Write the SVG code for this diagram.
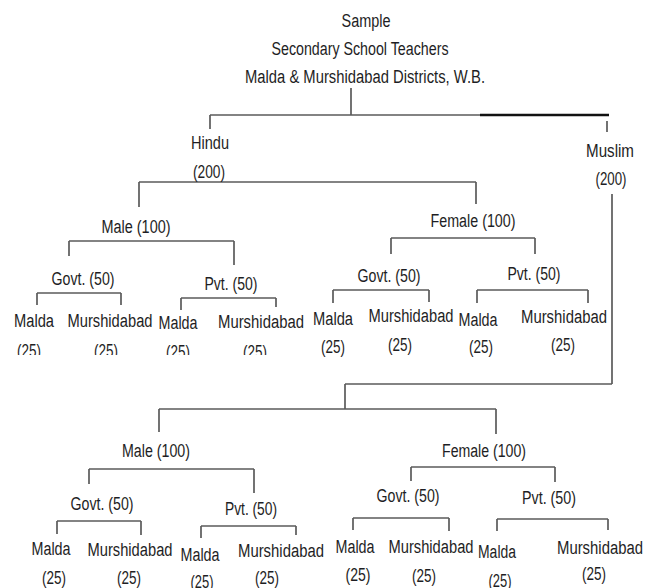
<svg xmlns="http://www.w3.org/2000/svg" width="654" height="588" viewBox="0 0 654 588">
<style>
text{font-family:"Liberation Sans",Arial,sans-serif;font-size:18px;fill:#1e1e24;text-anchor:middle}
.c line{stroke:#5a5a5a;stroke-width:1.7;fill:none}
.c line.k{stroke:#111;stroke-width:2.6}
</style>
<defs>
<clipPath id="cut"><rect x="0" y="0" width="320" height="355"/></clipPath>
</defs>
<rect width="654" height="588" fill="#fff"/>
<g id="connectors" class="c">
<line x1="351" y1="88" x2="351" y2="115"/>
<line x1="210" y1="115" x2="481" y2="115"/>
<line class="k" x1="480" y1="115" x2="609" y2="115"/>
<line x1="210" y1="115" x2="210" y2="129"/>
<line x1="607" y1="121" x2="607" y2="132"/>
<line x1="139" y1="182" x2="476" y2="182"/>
<line x1="139" y1="182" x2="139" y2="207"/>
<line x1="476" y1="182" x2="476" y2="204"/>
<line x1="69" y1="241" x2="234" y2="241"/>
<line x1="69" y1="241" x2="69" y2="256"/>
<line x1="234" y1="241" x2="234" y2="265"/>
<line x1="37" y1="293" x2="121" y2="293"/>
<line x1="37" y1="293" x2="37" y2="305"/>
<line x1="121" y1="293" x2="121" y2="305"/>
<line x1="181" y1="298" x2="276" y2="298"/>
<line x1="181" y1="298" x2="181" y2="310"/>
<line x1="276" y1="298" x2="276" y2="307"/>
<line x1="391" y1="238" x2="535" y2="238"/>
<line x1="391" y1="238" x2="391" y2="254"/>
<line x1="535" y1="238" x2="535" y2="254"/>
<line x1="333" y1="290" x2="429" y2="290"/>
<line x1="333" y1="290" x2="333" y2="303"/>
<line x1="429" y1="290" x2="429" y2="302"/>
<line x1="477" y1="290" x2="588" y2="290"/>
<line x1="477" y1="290" x2="477" y2="303"/>
<line x1="588" y1="290" x2="588" y2="303"/>
<line x1="612" y1="194" x2="612" y2="384"/>
<line x1="345" y1="384" x2="612" y2="384"/>
<line x1="345" y1="384" x2="345" y2="409"/>
<line x1="159" y1="409" x2="496" y2="409"/>
<line x1="159" y1="409" x2="159" y2="432"/>
<line x1="496" y1="409" x2="496" y2="434"/>
<line x1="89" y1="469" x2="254" y2="469"/>
<line x1="89" y1="469" x2="89" y2="484"/>
<line x1="254" y1="469" x2="254" y2="493"/>
<line x1="411" y1="467" x2="555" y2="467"/>
<line x1="411" y1="467" x2="411" y2="481"/>
<line x1="555" y1="467" x2="555" y2="482"/>
<line x1="57" y1="521" x2="141" y2="521"/>
<line x1="57" y1="521" x2="57" y2="534"/>
<line x1="141" y1="521" x2="141" y2="535"/>
<line x1="201" y1="526" x2="296" y2="526"/>
<line x1="201" y1="526" x2="201" y2="538"/>
<line x1="296" y1="526" x2="296" y2="535"/>
<line x1="353" y1="518" x2="449" y2="518"/>
<line x1="353" y1="518" x2="353" y2="530"/>
<line x1="449" y1="518" x2="449" y2="531"/>
<line x1="497" y1="519" x2="608" y2="519"/>
<line x1="497" y1="519" x2="497" y2="531"/>
<line x1="608" y1="519" x2="608" y2="530"/>
</g>
<g id="root">
<text x="366" y="27" textLength="49" lengthAdjust="spacingAndGlyphs">Sample</text>
<text x="360" y="55" textLength="177" lengthAdjust="spacingAndGlyphs">Secondary School Teachers</text>
<text x="365" y="83" textLength="240" lengthAdjust="spacingAndGlyphs">Malda &amp; Murshidabad Districts, W.B.</text>
</g>
<g id="hindu">
<text x="210" y="149" textLength="38" lengthAdjust="spacingAndGlyphs">Hindu</text>
<text x="209" y="178" textLength="32" lengthAdjust="spacingAndGlyphs">(200)</text>
</g>
<g id="muslim">
<text x="610" y="157" textLength="48" lengthAdjust="spacingAndGlyphs">Muslim</text>
<text x="611" y="185" textLength="31" lengthAdjust="spacingAndGlyphs">(200)</text>
</g>
<g id="h-male"><text x="136" y="233" textLength="69" lengthAdjust="spacingAndGlyphs">Male (100)</text></g>
<g id="h-female"><text x="473" y="227" textLength="85" lengthAdjust="spacingAndGlyphs">Female (100)</text></g>
<g id="h-m-govt"><text x="83" y="285" textLength="63" lengthAdjust="spacingAndGlyphs">Govt. (50)</text></g>
<g id="h-m-pvt"><text x="231" y="290" textLength="53" lengthAdjust="spacingAndGlyphs">Pvt. (50)</text></g>
<g id="h-f-govt"><text x="389" y="282" textLength="63" lengthAdjust="spacingAndGlyphs">Govt. (50)</text></g>
<g id="h-f-pvt"><text x="534" y="280" textLength="53" lengthAdjust="spacingAndGlyphs">Pvt. (50)</text></g>
<g id="h-m-g-malda"><text x="34" y="327" textLength="40" lengthAdjust="spacingAndGlyphs">Malda</text><text x="29" y="357" textLength="24" lengthAdjust="spacingAndGlyphs" clip-path="url(#cut)">(25)</text></g>
<g id="h-m-g-mur"><text x="110" y="327" textLength="85" lengthAdjust="spacingAndGlyphs">Murshidabad</text><text x="106" y="357" textLength="24" lengthAdjust="spacingAndGlyphs" clip-path="url(#cut)">(25)</text></g>
<g id="h-m-p-malda"><text x="178" y="329" textLength="39" lengthAdjust="spacingAndGlyphs">Malda</text><text x="178" y="358" textLength="24" lengthAdjust="spacingAndGlyphs" clip-path="url(#cut)">(25)</text></g>
<g id="h-m-p-mur"><text x="261" y="328" textLength="86" lengthAdjust="spacingAndGlyphs">Murshidabad</text><text x="255" y="358" textLength="24" lengthAdjust="spacingAndGlyphs" clip-path="url(#cut)">(25)</text></g>
<g id="h-f-g-malda"><text x="333" y="325" textLength="40" lengthAdjust="spacingAndGlyphs">Malda</text><text x="333" y="353" textLength="24" lengthAdjust="spacingAndGlyphs">(25)</text></g>
<g id="h-f-g-mur"><text x="411" y="322" textLength="85" lengthAdjust="spacingAndGlyphs">Murshidabad</text><text x="400" y="351" textLength="24" lengthAdjust="spacingAndGlyphs">(25)</text></g>
<g id="h-f-p-malda"><text x="478" y="326" textLength="39" lengthAdjust="spacingAndGlyphs">Malda</text><text x="481" y="353" textLength="24" lengthAdjust="spacingAndGlyphs">(25)</text></g>
<g id="h-f-p-mur"><text x="564" y="323" textLength="86" lengthAdjust="spacingAndGlyphs">Murshidabad</text><text x="563" y="351" textLength="24" lengthAdjust="spacingAndGlyphs">(25)</text></g>
<g id="m-male"><text x="156" y="457" textLength="68" lengthAdjust="spacingAndGlyphs">Male (100)</text></g>
<g id="m-female"><text x="484" y="457" textLength="84" lengthAdjust="spacingAndGlyphs">Female (100)</text></g>
<g id="m-m-govt"><text x="102" y="510" textLength="63" lengthAdjust="spacingAndGlyphs">Govt. (50)</text></g>
<g id="m-m-pvt"><text x="251" y="515" textLength="52" lengthAdjust="spacingAndGlyphs">Pvt. (50)</text></g>
<g id="m-f-govt"><text x="408" y="502" textLength="63" lengthAdjust="spacingAndGlyphs">Govt. (50)</text></g>
<g id="m-f-pvt"><text x="549" y="504" textLength="54" lengthAdjust="spacingAndGlyphs">Pvt. (50)</text></g>
<g id="m-m-g-malda"><text x="51" y="555" textLength="39" lengthAdjust="spacingAndGlyphs">Malda</text><text x="54" y="584" textLength="24" lengthAdjust="spacingAndGlyphs">(25)</text></g>
<g id="m-m-g-mur"><text x="130" y="556" textLength="85" lengthAdjust="spacingAndGlyphs">Murshidabad</text><text x="129" y="584" textLength="24" lengthAdjust="spacingAndGlyphs">(25)</text></g>
<g id="m-m-p-malda"><text x="200" y="561" textLength="39" lengthAdjust="spacingAndGlyphs">Malda</text><text x="202" y="588" textLength="23" lengthAdjust="spacingAndGlyphs">(25)</text></g>
<g id="m-m-p-mur"><text x="281" y="557" textLength="86" lengthAdjust="spacingAndGlyphs">Murshidabad</text><text x="267" y="584" textLength="24" lengthAdjust="spacingAndGlyphs">(25)</text></g>
<g id="m-f-g-malda"><text x="355" y="553" textLength="39" lengthAdjust="spacingAndGlyphs">Malda</text><text x="358" y="581" textLength="25" lengthAdjust="spacingAndGlyphs">(25)</text></g>
<g id="m-f-g-mur"><text x="431" y="553" textLength="85" lengthAdjust="spacingAndGlyphs">Murshidabad</text><text x="424" y="582" textLength="24" lengthAdjust="spacingAndGlyphs">(25)</text></g>
<g id="m-f-p-malda"><text x="497" y="558" textLength="38" lengthAdjust="spacingAndGlyphs">Malda</text><text x="500" y="587" textLength="23" lengthAdjust="spacingAndGlyphs">(25)</text></g>
<g id="m-f-p-mur"><text x="600" y="554" textLength="86" lengthAdjust="spacingAndGlyphs">Murshidabad</text><text x="594" y="580" textLength="24" lengthAdjust="spacingAndGlyphs">(25)</text></g>
</svg>
